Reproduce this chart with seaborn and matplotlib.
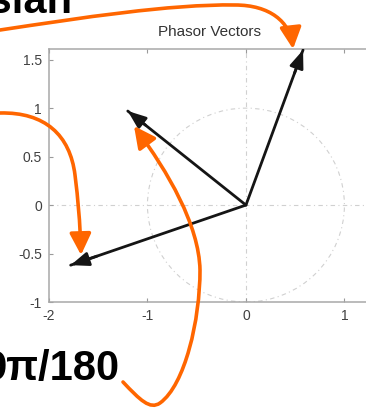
import numpy as np
import pandas as pd
import seaborn as sns
import matplotlib.pyplot as plt
from matplotlib.patches import Circle, FancyArrowPatch
from matplotlib.path import Path

vec_names = ["A", "B", "C"]
vec_x = [0.58, -1.20, -1.78]
vec_y = [1.60, 0.97, -0.62]

x_ticks = [-2, -1, 0, 1]
y_ticks = [-1, -0.5, 0, 0.5, 1, 1.5]
title = "Phasor Vectors"
top_note = "Cartesian"
bottom_note = "9\u03c0/180"

sns.set_theme(style="white")
plt.rcParams["font.family"] = ["Liberation Sans", "DejaVu Sans"]
plt.rcParams["axes.unicode_minus"] = False

W, H = 366, 409
fig = plt.figure(figsize=(W / 100, H / 100), dpi=100)
fig.patch.set_facecolor("white")

# main axes, right side runs past the edge of the crop like the original
ax = fig.add_axes([49 / W, (H - 302) / H, 322 / W, 253 / H])
ax.set_xlim(-2, 1.27)
ax.set_ylim(-1, 1.61)

grid_kw = dict(color="#d0d0d0", lw=0.8, ls=(0, (4, 3, 1, 3)), zorder=0)
ax.axhline(0, **grid_kw)
ax.axvline(0, **grid_kw)
ax.add_patch(Circle((0, 0), 1, fill=False, **grid_kw))

rows = []
for name, x, y in zip(vec_names, vec_x, vec_y):
    rows.append({"vec": name, "re": 0.0, "im": 0.0})
    rows.append({"vec": name, "re": x, "im": y})
df = pd.DataFrame(rows)

sns.lineplot(data=df, x="re", y="im", units="vec", estimator=None, sort=False,
             color="#151515", lw=2.0, ax=ax, legend=False, zorder=3)
for x, y in zip(vec_x, vec_y):
    ax.annotate("", xy=(x, y), xytext=(0.85 * x, 0.85 * y),
                arrowprops=dict(arrowstyle="-|>,head_length=0.9,head_width=0.35",
                                mutation_scale=12, color="#151515", lw=2.0,
                                shrinkA=0, shrinkB=0), zorder=4)

ax.set_xlabel("")
ax.set_ylabel("")
ax.set_xticks(x_ticks)
ax.set_yticks(y_ticks)
ax.set_xticklabels([str(t) for t in x_ticks])
ax.set_yticklabels(["-1", "-0.5", "0", "0.5", "1", "1.5"])
ax.tick_params(direction="in", length=3, width=0.8, color="#9a9a9a",
               labelsize=10, labelcolor="#404040", pad=5,
               top=True, right=True, bottom=True, left=True)
for s in ax.spines.values():
    s.set_color("#a8a8a8")
    s.set_linewidth(1.1)
ax.set_title(title, fontsize=11, color="#333333", pad=9)

# slide annotations drawn in pixel space on top
ov = fig.add_axes([0, 0, 1, 1], facecolor="none")
ov.set_xlim(0, W)
ov.set_ylim(H, 0)
ov.axis("off")

orange = "#ff6600"
C4 = Path.CURVE4
curves = [
    ([(0, 30), (80, 18), (170, 4), (235, 5), (270, 5), (290, 22), (293, 49)],
     [Path.MOVETO, C4, C4, C4, C4, C4, C4]),
    ([(0, 113), (45, 112), (70, 135), (75, 175), (78, 200), (80, 220), (81, 255)],
     [Path.MOVETO, C4, C4, C4, C4, C4, C4]),
    ([(123, 382), (140, 400), (150, 410), (160, 403), (185, 385), (200, 320),
      (200, 270), (199, 225), (168, 172), (134, 126)],
     [Path.MOVETO, C4, C4, C4, C4, C4, C4, C4, C4, C4]),
]
for verts, codes in curves:
    ov.add_patch(FancyArrowPatch(path=Path(verts, codes),
                                 arrowstyle="-|>,head_length=1.0,head_width=0.5",
                                 mutation_scale=13, color=orange, lw=2.6,
                                 transform=ov.transData, zorder=10))

ov.text(72, 13, top_note, fontsize=30, fontweight="bold", color="black",
        ha="right", va="baseline")
ov.text(120, 380, bottom_note, fontsize=30, fontweight="bold", color="black",
        ha="right", va="baseline")

fig.savefig("out.png", dpi=100)
